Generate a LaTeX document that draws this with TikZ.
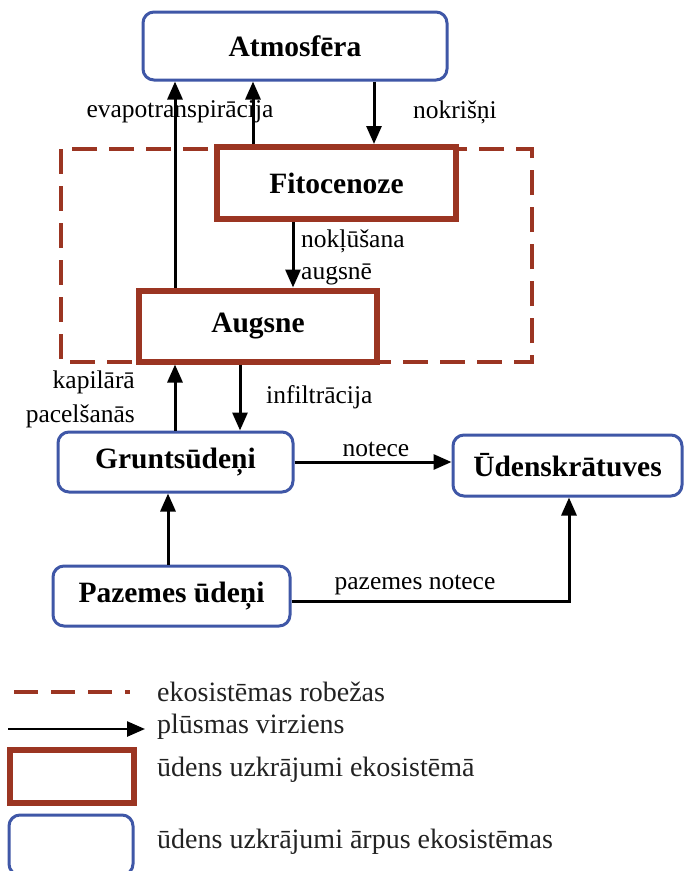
\documentclass[tikz,border=0pt]{standalone}
\usepackage{fontspec}
\setmainfont{Liberation Serif}
\usetikzlibrary{arrows.meta}
\definecolor{ecored}{HTML}{9B3522}
\definecolor{outblue}{HTML}{3F57A7}
\definecolor{legtext}{HTML}{222222}
\begin{document}
\begin{tikzpicture}[x=1pt,y=-1pt,
  inbox/.style={draw=ecored,line width=6pt,fill=white,inner sep=0pt,font=\fontsize{29.5}{32}\selectfont\bfseries},
  outbox/.style={draw=outblue,line width=3pt,fill=white,rounded corners=11pt,inner sep=0pt,font=\fontsize{29.5}{32}\selectfont\bfseries},
  flow/.style={line width=3pt,-{Triangle[width=15pt,length=18pt]}},
  lbl/.style={font=\fontsize{25.5}{28}\selectfont,inner sep=0pt},
  leg/.style={font=\fontsize{28}{30}\selectfont,text=legtext,inner sep=0pt,anchor=west},
  bound/.style={draw=ecored,line width=4pt,dash pattern=on 25pt off 12pt}]
\useasboundingbox (0,0) rectangle (685,871);
\fill[white] (0,0) rectangle (685,871);
% ecosystem boundary
\draw[bound] (61,149) rectangle (532,362);
% boxes
\node[outbox,minimum width=304pt,minimum height=68pt] (atm) at (295,46) {Atmosfēra};
\node[inbox,minimum width=239pt,minimum height=72pt] (fito) at (336.5,183) {Fitocenoze};
\node[inbox,minimum width=238pt,minimum height=71pt] (aug) at (258,326) {Augsne};
\node[outbox,minimum width=235pt,minimum height=60pt] (grunt) at (175.5,462) {Gruntsūdeņi};
\node[outbox,minimum width=229pt,minimum height=61pt] (uden) at (567.5,465.5) {Ūdenskrātuves};
\node[outbox,minimum width=237pt,minimum height=60pt] (paz) at (171.5,596) {Pazemes ūdeņi};
% coordinates for x positions
\coordinate (x175) at (175,0);
\coordinate (x253) at (253,0);
\coordinate (x374) at (374,0);
\coordinate (x293) at (293,0);
\coordinate (x240) at (240,0);
\coordinate (x168) at (168,0);
\coordinate (y601) at (0,601);
% arrows
\draw[flow] (aug.north -| x175) -- (atm.south -| x175);
\draw[flow] (fito.north -| x253) -- (atm.south -| x253);
\draw[flow] (atm.south -| x374) -- (fito.north -| x374);
\draw[flow] (fito.south -| x293) -- (aug.north -| x293);
\draw[flow] (grunt.north -| x175) -- (aug.south -| x175);
\draw[flow] (aug.south -| x240) -- (grunt.north -| x240);
\draw[flow] (grunt.east) -- (uden.west |- grunt.east);
\draw[flow] (paz.north -| x168) -- (grunt.south -| x168);
\coordinate (corner) at (569,601);
\draw[flow] (paz.east |- y601) -- (corner) -- (uden.south -| corner);
% labels
\node[lbl] (l1) at (180,112) {evapotranspirācija};
\node[lbl] (l2) at (455,112) {nokrišņi};
\node[lbl,anchor=west] (l3) at (301,241) {nokļūšana};
\node[lbl,anchor=west] (l4) at (301,274) {augsnē};
\node[lbl,anchor=east] (l5) at (135,382) {kapilārā};
\node[lbl,anchor=east] (l6) at (135,416) {pacelšanās};
\node[lbl,anchor=west] (l7) at (266,397) {infiltrācija};
\node[lbl] (l8) at (376,449) {notece};
\node[lbl] (l9) at (415,585) {pazemes notece};
% legend
\coordinate (d1) at (14,692);
\coordinate (d2) at (130,692);
\draw[bound,dash pattern=on 24pt off 13pt] (d1) -- (d2);
\node[leg] (t1) at (157,692) {ekosistēmas robežas};
\coordinate (a1) at (8,729);
\coordinate (a2) at (145,729);
\draw[flow,line width=2.5pt] (a1) -- (a2);
\node[leg] (t2) at (157,727) {plūsmas virziens};
\node[inbox,minimum width=124pt,minimum height=53pt] (b1) at (72,776) {};
\node[leg] (t3) at (157,770) {ūdens uzkrājumi ekosistēmā};
\node[outbox,minimum width=124pt,minimum height=60pt] (b2) at (71,845) {};
\node[leg] (t4) at (157,842) {ūdens uzkrājumi ārpus ekosistēmas};
\end{tikzpicture}
\end{document}
